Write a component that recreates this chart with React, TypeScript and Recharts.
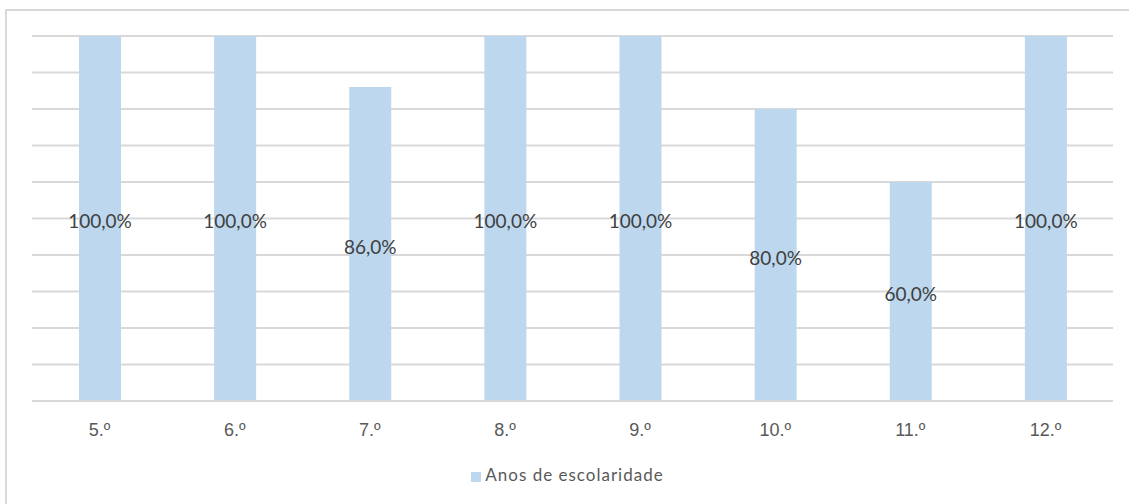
import React from "react";
import { BarChart, Bar, XAxis, YAxis, CartesianGrid, Legend, LabelList } from "recharts";

// categorias (anos) e percentagens
const anos = ["5.º", "6.º", "7.º", "8.º", "9.º", "10.º", "11.º", "12.º"];
const percentagens = [100, 100, 86, 100, 100, 80, 60, 100];
const yTicks = [0, 10, 20, 30, 40, 50, 60, 70, 80, 90, 100];

const data = anos.map((ano, i) => ({ ano, valor: percentagens[i] }));

const font = "Lato, 'Open Sans', sans-serif";
const tickFont = "'Liberation Sans', Arial, sans-serif";
const grid = "#d9d9d9";

const fmt = (v: number) => v.toFixed(1).replace(".", ",") + "%";

export default function App() {
  return (
    <div style={{ position: "absolute", left: 0, top: 0, width: 1129, height: 504, background: "#fff", fontFamily: font }}>
      {/* moldura do gráfico */}
      <div
        style={{
          position: "absolute",
          left: 5,
          top: 9,
          width: 1140,
          height: 520,
          borderLeft: `2px solid ${grid}`,
          borderTop: `2px solid ${grid}`,
        }}
      />
      <BarChart
        width={1129}
        height={504}
        data={data}
        margin={{ top: 36, right: 16, bottom: 19, left: 32 }}
      >
        <CartesianGrid vertical={false} stroke={grid} strokeWidth={2} />
        <YAxis hide type="number" domain={[0, 100]} ticks={yTicks} />
        <XAxis
          dataKey="ano"
          height={63}
          tickLine={false}
          tickSize={0}
          tickMargin={22}
          axisLine={{ stroke: grid, strokeWidth: 2 }}
          tick={{ fill: "#595959", fontSize: 18, fontFamily: tickFont }}
        />
        <Legend
          verticalAlign="bottom"
          iconType="square"
          iconSize={10}
          wrapperStyle={{ fontSize: 17, fontFamily: font }}
          formatter={(v) => <span style={{ color: "#595959", letterSpacing: 1 }}>{v}</span>}
        />
        <Bar dataKey="valor" name="Anos de escolaridade" fill="#bdd7ee" barSize={42} isAnimationActive={false}>
          <LabelList
            dataKey="valor"
            position="center"
            dy={3}
            formatter={(v: any) => fmt(Number(v))}
            style={{ fill: "#404040", fontSize: 19, fontFamily: font }}
          />
        </Bar>
      </BarChart>
    </div>
  );
}
